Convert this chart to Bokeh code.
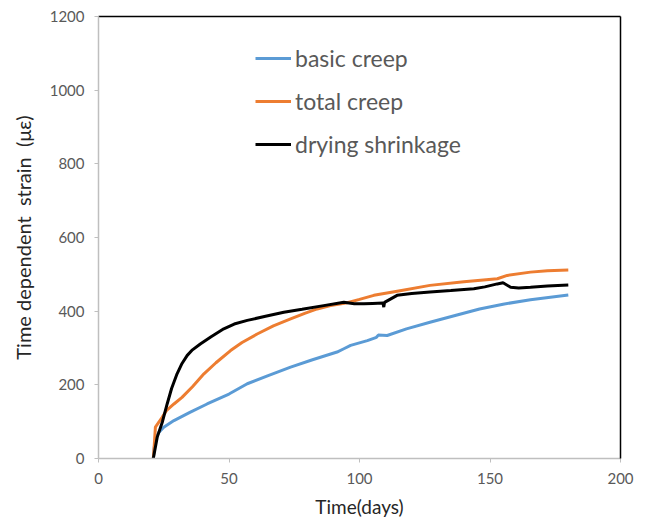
from bokeh.plotting import figure
from bokeh.models import Legend, LegendItem, LinearAxis, Range1d, FixedTicker
from bokeh.embed import file_html
from bokeh.resources import INLINE

# ---- data ----
basic_days = [21, 21.5, 22.5, 23.1, 25, 28.9, 35, 41.6, 50, 57, 65, 73.6, 82, 91.4, 94, 96.6,
              103, 106.5, 107.2, 110.6, 118, 127, 137, 146, 155, 165.5, 180]
basic_vals = [0, 40, 62, 71, 85, 103, 125, 148, 175, 203, 225, 248, 268, 289, 298, 307,
              320, 329, 335, 334, 352, 370, 389, 406, 419, 431, 444]

total_days = [21, 21.4, 21.8, 24.4, 26, 28.9, 32, 36, 40.4, 45, 50.6, 55, 60.8, 67, 73.6, 79,
              83.8, 88.9, 95.3, 100, 105.5, 115, 127, 140, 152.8, 156.6, 165.5, 172, 180]
total_vals = [0, 40, 85, 112, 130, 148, 166, 195, 230, 260, 293, 315, 338, 360, 379, 394,
              406, 415, 423, 432, 443, 455, 470, 480, 488, 497, 506, 510, 512]

shrink_days = [21, 22.5, 24.5, 26.3, 28, 30.1, 32, 34, 36, 39, 43, 48, 52, 57, 64, 71, 78,
               86.3, 94, 98, 101.7, 105, 109, 109.3, 109.6, 114.4, 120, 127, 135, 143.8, 148,
               152.8, 155, 157.9, 161, 165.5, 172, 180]
shrink_vals = [0, 58, 100, 148, 190, 230, 258, 280, 295, 311, 330, 352, 365, 375, 386, 397, 405,
               415, 424, 420, 420, 421, 422, 411, 424, 443, 448, 452, 456, 461, 466,
               474, 477, 465, 463, 465, 468, 471]

x_ticks = [0, 50, 100, 150, 200]
y_ticks = [0, 200, 400, 600, 800, 1000, 1200]

FONT = "Lato"
GREY_TXT = "#595959"

p = figure(width=645, height=526, output_backend="svg", toolbar_location=None,
           x_range=Range1d(0, 200), y_range=Range1d(0, 1200),
           min_border_left=98, min_border_right=25, min_border_top=16, min_border_bottom=68)
p.outline_line_color = None
p.grid.visible = False
p.background_fill_color = "white"
p.border_fill_color = "white"

l1 = p.line(basic_days, basic_vals, line_color="#5B9BD5", line_width=3)
l2 = p.line(total_days, total_vals, line_color="#ED7D31", line_width=3)
l3 = p.line(shrink_days, shrink_vals, line_color="black", line_width=3)

for ax in (p.xaxis[0], p.yaxis[0]):
    ax.axis_line_color = "#BFBFBF"
    ax.axis_line_width = 1.5
    ax.major_tick_line_color = "#BFBFBF"
    ax.major_tick_in = 0
    ax.major_tick_out = 4
    ax.minor_tick_line_color = None
    ax.major_label_text_font = FONT
    ax.major_label_text_font_size = "15px"
    ax.major_label_text_color = GREY_TXT
    ax.axis_label_text_font = FONT
    ax.axis_label_text_font_style = "normal"
    ax.axis_label_text_color = "#262626"

p.xaxis[0].axis_label_text_font_size = "19px"
p.yaxis[0].axis_label_text_font_size = "20px"
p.xaxis[0].ticker = FixedTicker(ticks=x_ticks)
p.yaxis[0].ticker = FixedTicker(ticks=y_ticks)
p.xaxis[0].axis_label = "Time(days)"
p.yaxis[0].axis_label = "Time dependent\u00a0\u00a0strain\u00a0\u00a0(με)"
p.xaxis[0].major_label_standoff = 10
p.yaxis[0].major_label_standoff = 10
p.xaxis[0].axis_label_standoff = 8
p.yaxis[0].axis_label_standoff = 12

# black top and right frame lines
for loc in ("above", "right"):
    a = LinearAxis(ticker=FixedTicker(ticks=[]), axis_line_color="black", axis_line_width=1.5,
                   major_tick_line_color=None, minor_tick_line_color=None,
                   major_label_text_font_size="0px")
    p.add_layout(a, loc)

legend = Legend(items=[LegendItem(label="basic creep", renderers=[l1]),
                       LegendItem(label="total creep", renderers=[l2]),
                       LegendItem(label="drying shrinkage", renderers=[l3])],
                location=(157, 300), orientation="vertical",
                label_text_font=FONT, label_text_font_size="23px", label_text_color=GREY_TXT,
                glyph_width=36, glyph_height=20, label_standoff=4, spacing=15,
                padding=0, margin=0, border_line_color=None, background_fill_alpha=0)
p.add_layout(legend, "center")

open("out.html", "w").write(file_html(p, INLINE))
